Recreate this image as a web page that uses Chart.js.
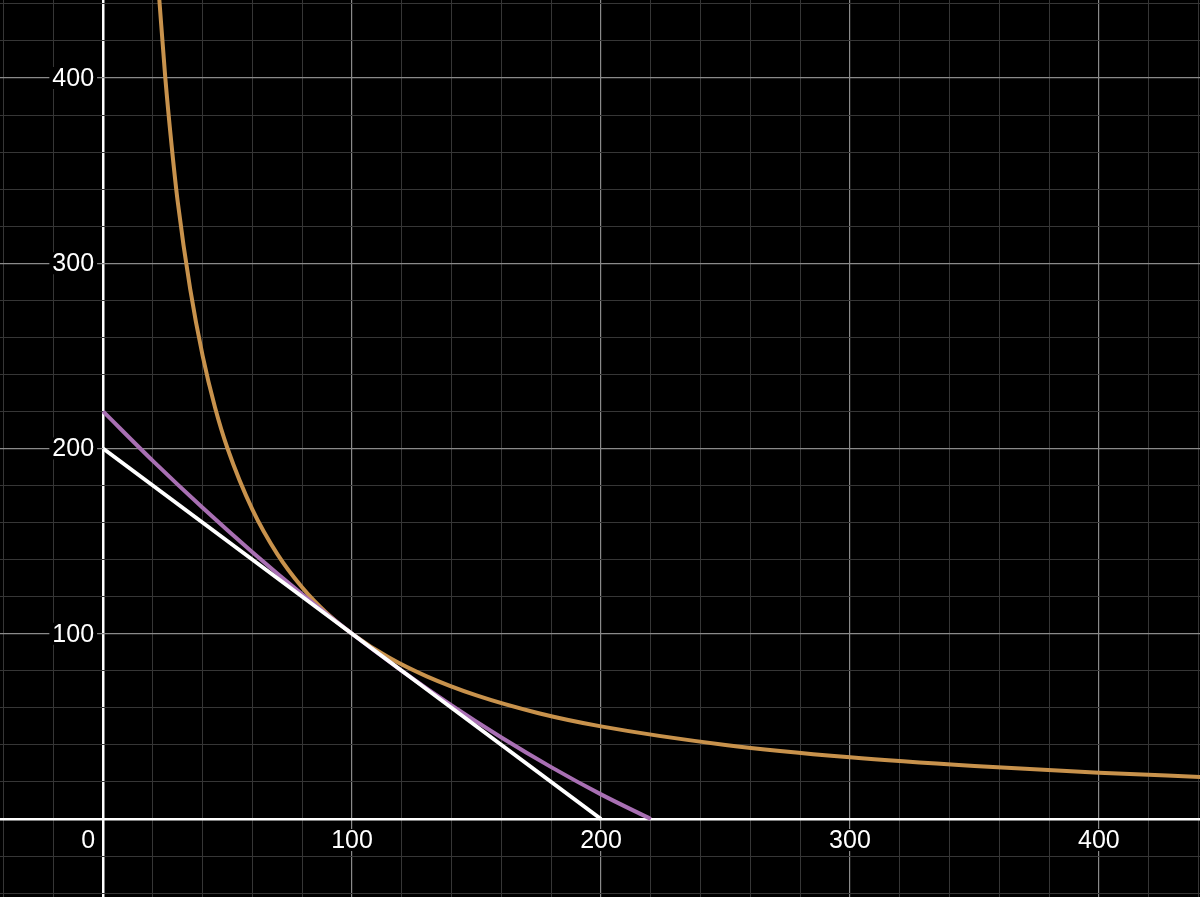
<!DOCTYPE html>
<html>
<head>
<meta charset="utf-8">
<script src="https://cdn.jsdelivr.net/npm/chart.js@4"></script>
<style>
  html, body { margin: 0; padding: 0; background: #000; }
  canvas { display: block; }
</style>
</head>
<body>
<canvas id="graph" width="1200" height="897"></canvas>
<script>
// visible window of the graph
const xRange = [-41.4, 440.6];
const yRange = [-42.1, 442.1];

// tick labels drawn next to the axes
const xTickLabels = [100, 200, 300, 400];
const yTickLabels = [100, 200, 300, 400];
const originLabel = "0";

// orange curve
const curveX = [22.5, 25, 27.5, 30, 35, 40, 45, 50, 60, 70, 80, 90, 100, 115, 130, 150, 175, 200, 250, 300, 350, 400, 441];
const curveY = [444, 400, 364, 333, 286, 250, 222, 200, 167, 143, 125, 111, 100, 87, 77, 66.7, 57.1, 50, 40, 33.3, 28.6, 25, 22.7];

// purple line
const purpleX = [0, 20, 40, 60, 80, 100, 120, 140, 160, 180, 200, 220];
const purpleY = [220, 193.3, 168, 144, 121.3, 100, 80, 61.3, 44, 28, 13.3, 0];

// white line
const whiteX = [0, 200];
const whiteY = [200, 0];

const pts = (xs, ys) => xs.map((x, i) => ({ x, y: ys[i] }));

const bgPlugin = {
  id: "black_bg",
  beforeDraw: (chart) => {
    const ctx = chart.ctx;
    ctx.save();
    ctx.fillStyle = "#000";
    ctx.fillRect(0, 0, chart.width, chart.height);
    ctx.restore();
  },
};

// axis labels sit inside the plot, next to the axis lines, on a black patch
const labelPlugin = {
  id: "axis_labels",
  afterDatasetsDraw: (chart) => {
    const ctx = chart.ctx;
    const { x, y } = chart.scales;
    const x0 = x.getPixelForValue(0);
    const y0 = y.getPixelForValue(0);
    ctx.save();
    ctx.font = "25px 'Liberation Sans', Arial, sans-serif";
    ctx.textBaseline = "middle";
    const put = (text, px, py, align) => {
      const w = ctx.measureText(text).width;
      const left = align === "right" ? px - w : px - w / 2;
      ctx.fillStyle = "#000";
      ctx.fillRect(left - 3, py - 11, w + 6, 22);
      ctx.fillStyle = "#fff";
      ctx.textAlign = align;
      ctx.fillText(text, px, py + 1);
    };
    xTickLabels.forEach((v) => put(String(v), x.getPixelForValue(v), y0 + 21, "center"));
    yTickLabels.forEach((v) => put(String(v), x0 - 9, y.getPixelForValue(v), "right"));
    put(originLabel, x0 - 8, y0 + 21, "right");
    ctx.restore();
  },
};

const gridColor = (ctx) => {
  const v = ctx.tick.value;
  if (v === 0) return "#ffffff";
  return v % 100 === 0 ? "#8a8a8a" : "#363636";
};
const gridWidth = (ctx) => (ctx.tick.value === 0 ? 2.5 : ctx.tick.value % 100 === 0 ? 1.2 : 1);

const axis = (range) => ({
  type: "linear",
  min: range[0],
  max: range[1],
  border: { display: false },
  grid: { color: gridColor, lineWidth: gridWidth, drawTicks: false },
  ticks: { display: false, stepSize: 20, includeBounds: false },
});

new Chart(document.getElementById("graph"), {
  type: "scatter",
  data: {
    datasets: [
      {
        label: "white",
        data: pts(whiteX, whiteY),
        showLine: true,
        borderColor: "#ffffff",
        borderWidth: 4,
        pointRadius: 0,
      },
      {
        label: "purple",
        data: pts(purpleX, purpleY),
        showLine: true,
        cubicInterpolationMode: "monotone",
        borderColor: "#a86fb3",
        borderWidth: 4,
        pointRadius: 0,
      },
      {
        label: "curve",
        data: pts(curveX, curveY),
        showLine: true,
        cubicInterpolationMode: "monotone",
        borderColor: "#c8924c",
        borderWidth: 4,
        pointRadius: 0,
      },
    ],
  },
  options: {
    responsive: false,
    animation: false,
    layout: { padding: 0 },
    plugins: { legend: { display: false }, tooltip: { enabled: false } },
    scales: { x: axis(xRange), y: axis(yRange) },
  },
  plugins: [bgPlugin, labelPlugin],
});
</script>
</body>
</html>
